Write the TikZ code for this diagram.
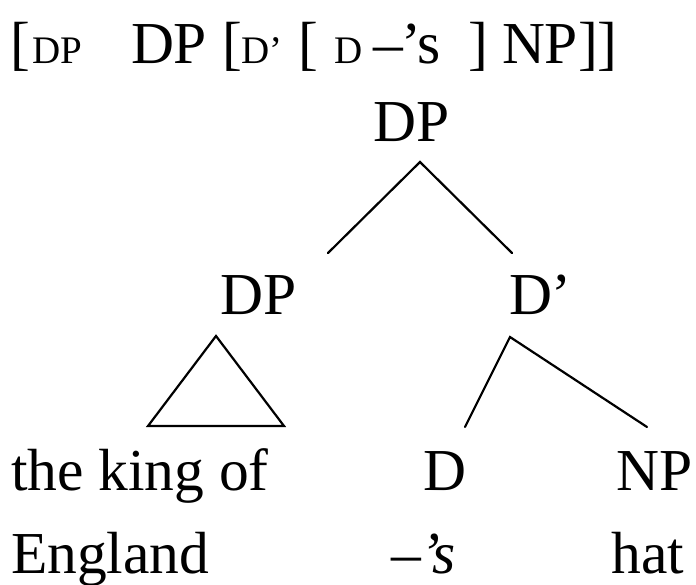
\documentclass[tikz,border=0pt]{standalone}
\usepackage{fontspec}
\setmainfont{Liberation Serif}
\newcommand{\bigf}{\fontsize{59.5pt}{66pt}\selectfont}
\newcommand{\smallf}{\fontsize{39pt}{44pt}\selectfont}
\begin{document}
\begin{tikzpicture}[x=1pt,y=-1pt,
  lbl/.style={inner sep=0pt,outer sep=0pt,font=\bigf},
  sml/.style={inner sep=0pt,outer sep=0pt,font=\smallf},
  edge/.style={line width=2.2pt,line cap=round,line join=miter}]
\useasboundingbox (0,0) rectangle (696,585);
% top bracketed line
\node[lbl,anchor=base west] (b1) at (10,64) {[};
\node[sml,anchor=base west] (s1) at (32,64) {DP};
\node[lbl,anchor=base west] (w1) at (131,64) {DP};
\node[lbl,anchor=base west] (b2) at (222,64) {[};
\node[sml,anchor=base west] (s2) at (241,64) {D’};
\node[lbl,anchor=base west] (b3) at (298,64) {[};
\node[sml,anchor=base west] (s3) at (334,64) {D};
\node[lbl,anchor=base west] (w2a) at (373,64) {–};
\node[lbl,anchor=base west] (w2) at (401,64) {’s};
\node[lbl,anchor=base west] (b4) at (468,64) {]};
\node[lbl,anchor=base west] (w3) at (502,64) {NP]]};
% tree labels
\node[lbl,anchor=base] (dp) at (411.5,142) {DP};
\node[lbl,anchor=base] (dpl) at (259,315) {DP};
\node[lbl,anchor=base west] (dbar) at (509,315) {D’};
\node[lbl,anchor=base west] (king) at (11,490) {the king of};
\node[lbl,anchor=base west] (eng) at (11,573) {England};
\node[lbl,anchor=base] (d) at (445,490) {D};
\node[lbl,anchor=base] (np) at (655,490) {NP};
\node[lbl,anchor=base west] (s) at (391,573) {\itshape –’s};
\node[lbl,anchor=base] (hat) at (648,573) {hat};
% connector endpoints
\coordinate (a0) at (420,162);
\coordinate (a1) at (328,253);
\coordinate (a2) at (512,253);
\coordinate (t0) at (216,336);
\coordinate (t1) at (148,426);
\coordinate (t2) at (284,426);
\coordinate (c0) at (510,337);
\coordinate (c1) at (465,427);
\coordinate (c2) at (647,427);
\draw[edge] (a1) -- (a0) -- (a2);
\draw[edge] (t0) -- (t1) -- (t2) -- cycle;
\draw[edge] (c1) -- (c0) -- (c2);
\end{tikzpicture}
\end{document}
